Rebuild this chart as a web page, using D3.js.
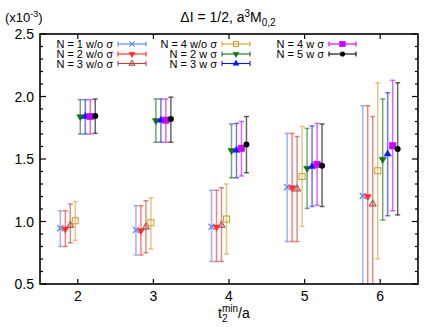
<!DOCTYPE html>
<html>
<head>
<script src="https://cdn.jsdelivr.net/npm/d3@7/dist/d3.min.js"></script>
<style>
  body { margin: 0; background: #fff; }
  text { font-family: "Liberation Sans", Arial, sans-serif; }
</style>
</head>
<body>
<script>
// x positions (t2min/a)
var xs = [2, 3, 4, 5, 6];

// series: central values, lower and upper ends of the error bars (units 1e-3)
var n1woVal = [0.946, 0.932, 0.958, 1.274, 1.204];
var n1woLo  = [0.80, 0.732, 0.68, 0.84, 0.40];
var n1woHi  = [1.086, 1.126, 1.25, 1.705, 1.926];

var n2woVal = [0.94, 0.926, 0.955, 1.27, 1.20];
var n2woLo  = [0.80, 0.732, 0.68, 0.84, 0.40];
var n2woHi  = [1.086, 1.126, 1.25, 1.705, 1.926];

var n3woVal = [0.97, 0.956, 0.97, 1.26, 1.14];
var n3woLo  = [0.83, 0.75, 0.68, 0.84, 0.40];
var n3woHi  = [1.14, 1.166, 1.27, 1.68, 1.84];

var n4woVal = [1.006, 0.99, 1.02, 1.36, 1.406];
var n4woLo  = [0.85, 0.78, 0.74, 0.96, 0.70];
var n4woHi  = [1.16, 1.19, 1.30, 1.76, 2.11];

var n2wVal = [1.838, 1.807, 1.567, 1.425, 1.497];
var n2wLo  = [1.70, 1.634, 1.35, 1.105, 1.012];
var n2wHi  = [1.975, 1.98, 1.78, 1.745, 1.98];

var n3wVal = [1.84, 1.81, 1.57, 1.44, 1.54];
var n3wLo  = [1.70, 1.634, 1.35, 1.12, 1.046];
var n3wHi  = [1.975, 1.98, 1.785, 1.764, 2.03];

var n4wVal = [1.84, 1.81, 1.585, 1.457, 1.606];
var n4wLo  = [1.70, 1.634, 1.364, 1.13, 1.086];
var n4wHi  = [1.975, 1.98, 1.80, 1.785, 2.13];

var n5wVal = [1.845, 1.82, 1.617, 1.447, 1.58];
var n5wLo  = [1.705, 1.634, 1.39, 1.12, 1.052];
var n5wHi  = [1.98, 1.995, 1.84, 1.78, 2.11];

var xTicks = [2, 3, 4, 5, 6];
var yTicks = [0.5, 1.0, 1.5, 2.0, 2.5];

var series = [
  {name: "N = 1 w/o \u03c3", val: n1woVal, lo: n1woLo, hi: n1woHi, color: "#5f82ec", sym: "x"},
  {name: "N = 2 w/o \u03c3", val: n2woVal, lo: n2woLo, hi: n2woHi, color: "#ff2a2a", sym: "down"},
  {name: "N = 3 w/o \u03c3", val: n3woVal, lo: n3woLo, hi: n3woHi, color: "#b84444", sym: "upOpen"},
  {name: "N = 4 w/o \u03c3", val: n4woVal, lo: n4woLo, hi: n4woHi, color: "#d4a02c", sym: "squareOpen"},
  {name: "N = 2 w \u03c3", val: n2wVal, lo: n2wLo, hi: n2wHi, color: "#167016", sym: "down"},
  {name: "N = 3 w \u03c3", val: n3wVal, lo: n3wLo, hi: n3wHi, color: "#0a1aff", sym: "up"},
  {name: "N = 4 w \u03c3", val: n4wVal, lo: n4wLo, hi: n4wHi, color: "#cc00ff", sym: "square"},
  {name: "N = 5 w \u03c3", val: n5wVal, lo: n5wLo, hi: n5wHi, color: "#000000", sym: "circle"}
];

var W = 436, H = 327;
var m = {left: 40, right: 18, top: 34, bottom: 43};

var svg = d3.select("body").append("svg")
  .attr("width", W).attr("height", H);

var x = d3.scaleLinear().domain([1.5, 6.5]).range([m.left, W - m.right]);
var y = d3.scaleLinear().domain([0.5, 2.5]).range([H - m.bottom, m.top]);

svg.append("clipPath").attr("id", "clip")
  .append("rect")
  .attr("x", m.left).attr("y", m.top)
  .attr("width", W - m.left - m.right).attr("height", H - m.top - m.bottom);

// marker drawing, k scales the size
function drawMarker(g, sym, color, cx, cy, k) {
  k = k || 1;
  if (sym === "x") {
    var r = 3 * k;
    g.append("path")
      .attr("d", "M" + (cx - r) + "," + (cy - r) + "L" + (cx + r) + "," + (cy + r) +
                 "M" + (cx - r) + "," + (cy + r) + "L" + (cx + r) + "," + (cy - r))
      .attr("stroke", color).attr("stroke-width", 1.2).attr("fill", "none");
  } else if (sym === "circle") {
    g.append("circle").attr("cx", cx).attr("cy", cy).attr("r", 3 * k).attr("fill", color);
  } else if (sym === "square" || sym === "squareOpen") {
    var s = (sym === "square" ? 6.5 : 6) * k;
    g.append("rect").attr("x", cx - s / 2).attr("y", cy - s / 2).attr("width", s).attr("height", s)
      .attr("fill", sym === "square" ? color : "none")
      .attr("stroke", color).attr("stroke-width", sym === "square" ? 0.5 : 1.1);
  } else {
    var path = d3.symbol().type(d3.symbolTriangle).size(22 * k * k)();
    var rot = sym === "down" ? 180 : 0;
    g.append("path").attr("d", path)
      .attr("transform", "translate(" + cx + "," + cy + ") rotate(" + rot + ")")
      .attr("fill", sym === "upOpen" ? "rgba(184,68,68,0.35)" : color)
      .attr("stroke", color).attr("stroke-width", sym === "upOpen" ? 1 : 0.5);
  }
}

// data
var step = 0.066;
var plot = svg.append("g").attr("clip-path", "url(#clip)");
series.forEach(function(s, si) {
  var g = plot.append("g");
  var off = (si - 3.5) * step;
  xs.forEach(function(xv, i) {
    var cx = x(xv + off);
    g.append("line")
      .attr("x1", cx).attr("x2", cx).attr("y1", y(s.lo[i])).attr("y2", y(s.hi[i]))
      .attr("stroke", s.color).attr("stroke-width", 1.5).attr("stroke-opacity", 0.6);
    [s.lo[i], s.hi[i]].forEach(function(v) {
      g.append("line")
        .attr("x1", cx - 2.5).attr("x2", cx + 2.5).attr("y1", y(v)).attr("y2", y(v))
        .attr("stroke", s.color).attr("stroke-width", 1.5).attr("stroke-opacity", 0.6);
    });
  });
});
series.forEach(function(s, si) {
  var g = plot.append("g");
  var off = (si - 3.5) * step;
  xs.forEach(function(xv, i) {
    drawMarker(g, s.sym, s.color, x(xv + off), y(s.val[i]));
  });
});

// frame and ticks
var frame = svg.append("g");
frame.append("rect")
  .attr("x", m.left).attr("y", m.top)
  .attr("width", W - m.left - m.right).attr("height", H - m.top - m.bottom)
  .attr("fill", "none").attr("stroke", "#000").attr("stroke-width", 1.6);

xTicks.forEach(function(t) {
  frame.append("line").attr("x1", x(t)).attr("x2", x(t))
    .attr("y1", y(0.5)).attr("y2", y(0.5) - 5).attr("stroke", "#000").attr("stroke-width", 1.2);
  frame.append("line").attr("x1", x(t)).attr("x2", x(t))
    .attr("y1", y(2.5)).attr("y2", y(2.5) + 5).attr("stroke", "#000").attr("stroke-width", 1.2);
  frame.append("text").attr("x", x(t)).attr("y", H - m.bottom + 17)
    .attr("text-anchor", "middle").attr("font-size", 14).text(t);
});

d3.range(5, 26).forEach(function(k) {
  var v = k / 10;
  var major = k % 5 === 0;
  var len = major ? 6 : 3;
  frame.append("line").attr("x1", m.left).attr("x2", m.left + len)
    .attr("y1", y(v)).attr("y2", y(v)).attr("stroke", "#000").attr("stroke-width", 1.2);
  frame.append("line").attr("x1", W - m.right).attr("x2", W - m.right - len)
    .attr("y1", y(v)).attr("y2", y(v)).attr("stroke", "#000").attr("stroke-width", 1.2);
});
yTicks.forEach(function(v) {
  frame.append("text").attr("x", m.left - 6).attr("y", y(v) + 5)
    .attr("text-anchor", "end").attr("font-size", 14).text(d3.format(".1f")(v));
});

// titles
var title = svg.append("text").attr("x", 228).attr("y", 22)
  .attr("text-anchor", "middle").attr("font-size", 14);
title.append("tspan").text("\u0394I = 1/2, a");
title.append("tspan").attr("dy", -5).attr("font-size", 10).text("3");
title.append("tspan").attr("dy", 5).text("M");
title.append("tspan").attr("dy", 4).attr("font-size", 10).text("0,2");

var unit = svg.append("text").attr("x", 5).attr("y", 22).attr("font-size", 13);
unit.append("tspan").text("(x10");
unit.append("tspan").attr("dy", -5).attr("font-size", 9).text("-3");
unit.append("tspan").attr("dy", 5).text(")");

var xl = svg.append("g");
var tText = xl.append("text").attr("x", 218).attr("y", 318).attr("font-size", 14).text("t");
var tw = tText.node().getComputedTextLength();
xl.append("text").attr("x", 218 + tw).attr("y", 322).attr("font-size", 10).text("2");
var supT = xl.append("text").attr("x", 218 + tw).attr("y", 312).attr("font-size", 10).text("min");
var sw = supT.node().getComputedTextLength();
xl.append("text").attr("x", 218 + tw + sw).attr("y", 318).attr("font-size", 14).text("/a");

// legend
var legCols = [{tx: 113, lx1: 118, lx2: 146}, {tx: 217, lx1: 222, lx2: 250}, {tx: 324, lx1: 329, lx2: 356}];
var legRows = [44, 54, 63.5];
var leg = svg.append("g");
series.forEach(function(s, si) {
  var c = legCols[Math.floor(si / 3)];
  var ry = legRows[si % 3];
  leg.append("text").attr("x", c.tx).attr("y", ry + 4)
    .attr("text-anchor", "end").attr("font-size", 11).text(s.name);
  leg.append("line").attr("x1", c.lx1).attr("x2", c.lx2).attr("y1", ry).attr("y2", ry)
    .attr("stroke", s.color).attr("stroke-width", 1.1);
  [c.lx1, c.lx2].forEach(function(lx) {
    leg.append("line").attr("x1", lx).attr("x2", lx).attr("y1", ry - 2.5).attr("y2", ry + 2.5)
      .attr("stroke", s.color).attr("stroke-width", 1.1);
  });
  drawMarker(leg, s.sym, s.color, (c.lx1 + c.lx2) / 2, ry, 0.85);
});
</script>
</body>
</html>
